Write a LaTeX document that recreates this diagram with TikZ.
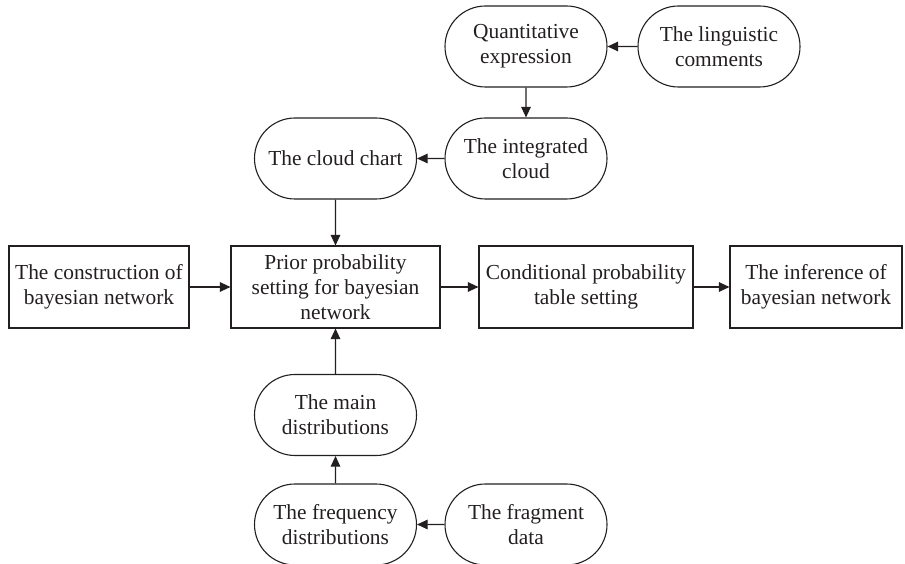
\documentclass[tikz,border=0pt]{standalone}
\usepackage{fontspec}
\setmainfont{Liberation Serif}
\usetikzlibrary{shapes.misc,arrows.meta}
\definecolor{ink}{HTML}{231F20}
\tikzset{
  base/.style={draw=ink, text=ink, line width=1.1pt, align=center, inner sep=0pt,
    font=\fontsize{21.4}{25}\selectfont},
  pill/.style={base, rounded rectangle, minimum width=162pt, minimum height=81pt},
  stepbox/.style={base, rectangle, minimum height=82pt},
  link/.style={draw=ink, line width=1.1pt, -{Triangle[length=10.5pt,width=9.5pt]}}
}
\begin{document}
\begin{tikzpicture}[x=1pt,y=-1pt]
\useasboundingbox (0,0) rectangle (905,564);

% upper branch: linguistic data to cloud chart
\node[pill] (quant) at (526,46.5) {Quantitative\\expression};
\node[pill] (ling)  at (719,46.5) {The linguistic\\comments};
\node[pill] (integ) at (526,158.5) {The integrated\\cloud};
\node[pill] (cloud) at (335.5,158.5) {The cloud chart};

% main chain of steps
\node[stepbox, minimum width=180pt] (constr) at (99,287) {The construction of\\bayesian network};
\node[stepbox, minimum width=209pt] (prior)  at (335.5,287) {Prior probability\\setting for bayesian\\network};
\node[stepbox, minimum width=214pt] (cond)   at (586,287) {Conditional probability\\table setting};
\node[stepbox, minimum width=172pt] (infer)  at (816,287) {The inference of\\bayesian network};

% lower branch: fragment data to distributions
\node[pill] (main) at (335.5,415) {The main\\distributions};
\node[pill] (freq) at (335.5,524.5) {The frequency\\distributions};
\node[pill] (frag) at (526,524.5) {The fragment\\data};

% connectors
\draw[link] (ling) -- (quant);
\draw[link] (quant) -- (integ);
\draw[link] (integ) -- (cloud);
\draw[link] (cloud) -- (prior);
\draw[link] (constr) -- (prior);
\draw[link] (prior) -- (cond);
\draw[link] (cond) -- (infer);
\draw[link] (main) -- (prior);
\draw[link] (freq) -- (main);
\draw[link] (frag) -- (freq);
\end{tikzpicture}
\end{document}
